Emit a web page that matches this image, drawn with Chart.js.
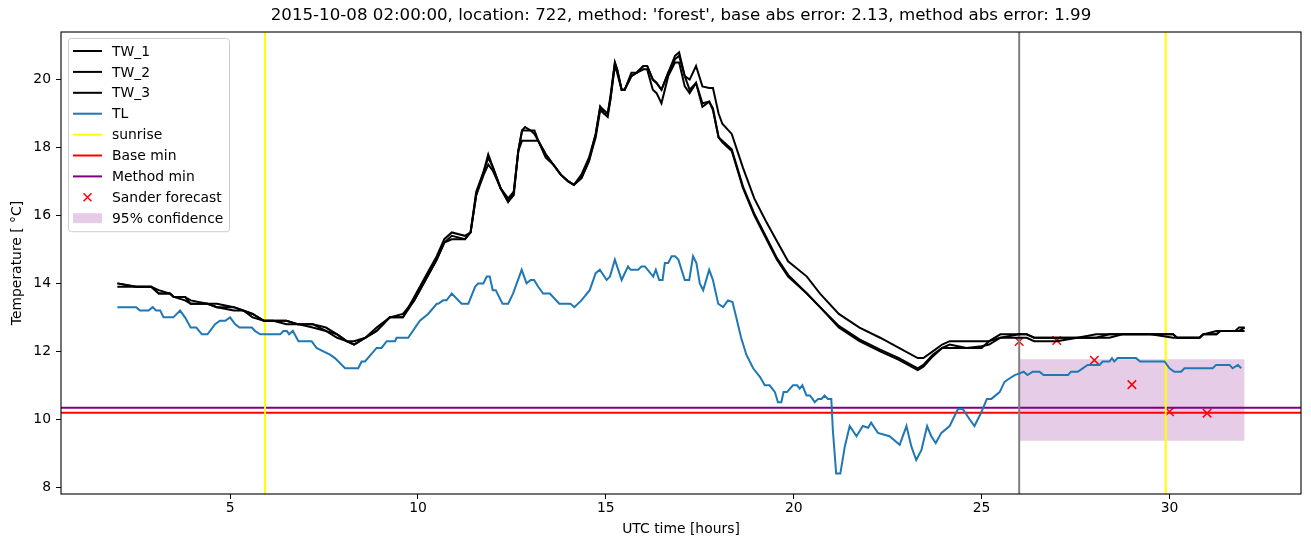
<!DOCTYPE html>
<html>
<head>
<meta charset="utf-8">
<script src="https://cdn.jsdelivr.net/npm/chart.js@4/dist/chart.umd.min.js"></script>
<style>
  html, body { margin: 0; padding: 0; background: #fff; }
  canvas { display: block; }
</style>
</head>
<body>
<canvas id="tempChart" width="1311" height="547"></canvas>
<script>
// water temperature sensors (hours UTC, deg C)
const twHours = [
  2.0, 2.5, 2.9, 3.1, 3.4, 3.5, 3.8, 3.95, 4.4, 4.65,
  5.1, 5.35, 5.6, 5.9, 6.15, 6.5, 6.8, 7.2, 7.55, 7.85,
  8.1, 8.3, 8.6, 8.9, 9.25, 9.6, 9.9, 10.2, 10.5, 10.7,
  10.9, 11.25, 11.4, 11.55, 11.75, 11.87, 12.0, 12.2, 12.4, 12.55,
  12.67, 12.77, 12.85, 13.0, 13.1, 13.2, 13.4, 13.6, 13.8, 14.0,
  14.15, 14.35, 14.55, 14.73, 14.85, 14.95, 15.05, 15.12, 15.24, 15.3,
  15.42, 15.5, 15.68, 15.82, 16.0, 16.1, 16.25, 16.35, 16.48, 16.66,
  16.84, 16.95, 17.1, 17.23, 17.4, 17.57, 17.75, 17.85, 18.0, 18.1,
  18.35, 18.65, 18.95, 19.25, 19.55, 19.85, 20.35, 20.7, 21.2, 21.75,
  22.3, 22.8, 23.3, 23.45, 23.7, 23.95, 24.15, 24.6, 25.0, 25.2,
  25.5, 26.0, 26.2, 26.4, 27.0, 27.55, 28.05, 28.4, 28.75, 29.5,
  30.1, 30.2, 30.8, 30.9, 31.25, 31.35, 31.75, 31.85, 32.0
];
const tw1 = [
  13.9, 13.9, 13.9, 13.7, 13.7, 13.6, 13.6, 13.4, 13.4, 13.3,
  13.3, 13.2, 13.1, 12.9, 12.9, 12.9, 12.8, 12.8, 12.7, 12.5,
  12.3, 12.2, 12.4, 12.6, 13.0, 13.0, 13.5, 14.1, 14.7, 15.2,
  15.3, 15.3, 15.5, 16.6, 17.2, 17.5, 17.3, 16.8, 16.4, 16.7,
  17.9, 18.2, 18.2, 18.2, 18.2, 18.2, 17.7, 17.5, 17.2, 17.0,
  16.9, 17.1, 17.6, 18.3, 19.1, 19.0, 18.9, 19.4, 20.4, 20.2,
  19.7, 19.7, 20.1, 20.2, 20.3, 20.3, 19.7, 19.6, 19.3, 20.1,
  20.5, 20.5, 19.8, 19.6, 19.9, 19.2, 19.35, 19.1, 18.3, 18.15,
  17.9, 16.8, 16.0, 15.35, 14.7, 14.2, 13.7, 13.3, 12.7, 12.3,
  12.0, 11.75, 11.45, 11.55, 11.85, 12.1, 12.1, 12.1, 12.1, 12.3,
  12.4, 12.5, 12.5, 12.4, 12.4, 12.4, 12.4, 12.5, 12.5, 12.5,
  12.5, 12.4, 12.4, 12.5, 12.5, 12.6, 12.6, 12.7, 12.7
];
const tw2 = [
  14.0, 13.9, 13.9, 13.8, 13.7, 13.6, 13.6, 13.5, 13.4, 13.4,
  13.3, 13.2, 13.0, 12.9, 12.9, 12.8, 12.8, 12.7, 12.6, 12.4,
  12.3, 12.2, 12.4, 12.7, 13.0, 13.1, 13.5, 14.1, 14.7, 15.2,
  15.4, 15.3, 15.5, 16.6, 17.3, 17.7, 17.4, 16.8, 16.5, 16.7,
  17.9, 18.5, 18.6, 18.5, 18.4, 18.2, 17.8, 17.5, 17.2, 17.0,
  16.9, 17.1, 17.6, 18.4, 19.2, 19.0, 19.0, 19.4, 20.5, 20.3,
  19.7, 19.7, 20.2, 20.2, 20.4, 20.4, 20.0, 19.9, 19.7, 20.2,
  20.6, 20.7, 20.1, 19.7, 19.9, 19.3, 19.35, 19.15, 18.3, 18.2,
  17.95, 16.85, 16.05, 15.4, 14.75, 14.25, 13.7, 13.3, 12.75, 12.35,
  12.05, 11.8, 11.5, 11.6, 11.9, 12.1, 12.2, 12.1, 12.15, 12.2,
  12.4, 12.4, 12.4, 12.3, 12.3, 12.4, 12.5, 12.5, 12.5, 12.5,
  12.4, 12.4, 12.4, 12.5, 12.5, 12.6, 12.6, 12.6, 12.6
];
const tw3 = [
  14.0, 13.9, 13.9, 13.7, 13.7, 13.6, 13.5, 13.4, 13.4, 13.3,
  13.2, 13.2, 13.1, 12.9, 12.9, 12.9, 12.8, 12.8, 12.6, 12.5,
  12.3, 12.3, 12.4, 12.6, 13.0, 13.0, 13.6, 14.2, 14.8, 15.3,
  15.5, 15.4, 15.5, 16.7, 17.3, 17.8, 17.4, 16.8, 16.4, 16.6,
  17.9, 18.5, 18.5, 18.5, 18.5, 18.2, 17.8, 17.5, 17.2, 17.0,
  16.9, 17.2, 17.7, 18.4, 19.2, 19.1, 19.0, 19.5, 20.5, 20.3,
  19.7, 19.7, 20.1, 20.2, 20.4, 20.4, 20.0, 19.9, 19.7, 20.2,
  20.7, 20.8, 20.1, 20.0, 20.4, 19.8, 19.75, 19.75, 19.0, 18.7,
  18.4, 17.4, 16.5, 15.85, 15.25, 14.65, 14.2, 13.7, 13.1, 12.7,
  12.4, 12.1, 11.8, 11.8, 12.0, 12.2, 12.3, 12.3, 12.3, 12.3,
  12.5, 12.5, 12.5, 12.4, 12.4, 12.4, 12.4, 12.4, 12.5, 12.5,
  12.5, 12.4, 12.4, 12.5, 12.6, 12.6, 12.6, 12.6, 12.7
];

// air temperature
const tlHours = [
  2.0, 2.5, 2.6, 2.83, 2.94, 3.03, 3.14, 3.23, 3.49, 3.67,
  3.8, 3.95, 4.1, 4.25, 4.4, 4.6, 4.73, 4.87, 5.0, 5.13,
  5.25, 5.58, 5.66, 5.8, 6.33, 6.42, 6.51, 6.57, 6.67, 6.82,
  7.17, 7.3, 7.48, 7.66, 7.79, 8.06, 8.41, 8.5, 8.59, 8.9,
  9.03, 9.17, 9.39, 9.43, 9.74, 10.05, 10.27, 10.5, 10.54, 10.67,
  10.76, 10.9, 11.16, 11.34, 11.52, 11.6, 11.74, 11.83, 11.91, 11.99,
  12.07, 12.25, 12.4, 12.53, 12.76, 12.89, 13.0, 13.09, 13.2, 13.33,
  13.51, 13.76, 14.06, 14.16, 14.35, 14.57, 14.73, 14.84, 15.02, 15.11,
  15.24, 15.42, 15.59, 15.66, 15.86, 15.95, 16.04, 16.26, 16.33, 16.42,
  16.51, 16.57, 16.66, 16.75, 16.84, 16.93, 17.1, 17.22, 17.32, 17.41,
  17.5, 17.59, 17.75, 17.85, 17.99, 18.12, 18.25, 18.37, 18.47, 18.6,
  18.74, 18.92, 19.1, 19.23, 19.36, 19.5, 19.58, 19.67, 19.73, 19.82,
  19.98, 20.09, 20.16, 20.23, 20.34, 20.43, 20.5, 20.56, 20.65, 20.74,
  20.82, 20.91, 21.0, 21.04, 21.13, 21.24, 21.36, 21.49, 21.67, 21.84,
  21.98, 22.06, 22.24, 22.55, 22.82, 23.0, 23.13, 23.26, 23.4, 23.55,
  23.66, 23.78, 23.93, 24.15, 24.37, 24.5, 24.68, 24.81, 24.99, 25.14,
  25.26, 25.48, 25.61, 25.74, 25.88, 26.01, 26.12, 26.22, 26.36, 26.54,
  26.65, 27.3, 27.38, 27.56, 27.69, 27.82, 28.14, 28.22, 28.4, 28.47,
  28.53, 28.62, 29.11, 29.22, 29.87, 30.0, 30.13, 30.31, 30.4, 31.15,
  31.24, 31.6, 31.68, 31.82, 31.91
];
const tl = [
  13.3, 13.3, 13.2, 13.2, 13.3, 13.2, 13.2, 13.0, 13.0, 13.2,
  13.0, 12.7, 12.7, 12.5, 12.5, 12.8, 12.9, 12.9, 13.0, 12.8,
  12.7, 12.7, 12.6, 12.5, 12.5, 12.6, 12.6, 12.5, 12.6, 12.3,
  12.3, 12.1, 12.0, 11.9, 11.8, 11.5, 11.5, 11.7, 11.7, 12.1,
  12.1, 12.3, 12.3, 12.4, 12.4, 12.9, 13.1, 13.4, 13.4, 13.5,
  13.5, 13.7, 13.4, 13.4, 13.9, 14.0, 14.0, 14.2, 14.2, 13.8,
  13.8, 13.4, 13.4, 13.7, 14.4, 14.0, 14.1, 14.1, 13.9, 13.7,
  13.7, 13.4, 13.4, 13.3, 13.5, 13.8, 14.3, 14.4, 14.1, 14.2,
  14.7, 14.1, 14.5, 14.4, 14.4, 14.5, 14.5, 14.2, 14.4, 14.1,
  14.1, 14.6, 14.6, 14.8, 14.8, 14.7, 14.1, 14.1, 14.8, 14.6,
  14.0, 13.8, 14.4, 14.1, 13.4, 13.3, 13.5, 13.45, 13.0, 12.4,
  11.9, 11.5, 11.25, 11.0, 11.0, 10.8, 10.5, 10.5, 10.8, 10.8,
  11.0, 11.0, 10.9, 11.0, 10.7, 10.7, 10.6, 10.5, 10.6, 10.6,
  10.7, 10.6, 10.6, 9.7, 8.4, 8.4, 9.2, 9.8, 9.5, 9.8,
  9.75, 9.9, 9.6, 9.5, 9.25, 9.8, 9.2, 8.8, 9.1, 9.8,
  9.5, 9.3, 9.6, 9.8, 10.3, 10.3, 10.0, 9.8, 10.2, 10.6,
  10.6, 10.8, 11.1, 11.2, 11.3, 11.35, 11.4, 11.3, 11.4, 11.4,
  11.3, 11.3, 11.4, 11.4, 11.5, 11.6, 11.6, 11.7, 11.7, 11.8,
  11.7, 11.8, 11.8, 11.7, 11.7, 11.5, 11.4, 11.4, 11.5, 11.5,
  11.6, 11.6, 11.5, 11.6, 11.5
];

const sunriseHours = [5.93, 29.9];
const forecastStart = 26.0;
const baseMin = 10.19;
const methodMin = 10.34;

const forecastHours = [26, 27, 28, 29, 30, 31];
const forecastValues = [12.29, 12.32, 11.74, 11.02, 10.22, 10.18];

const confHours = [26.0, 32.0];
const confUpper = 11.77;
const confLower = 9.37;

const xRange = [0.5, 33.5];
const yRange = [7.8, 21.4];
const xTicks = [5, 10, 15, 20, 25, 30];
const yTicks = [8, 10, 12, 14, 16, 18, 20];

const titleText = "2015-10-08 02:00:00, location: 722, method: 'forest', base abs error: 2.13, method abs error: 1.99";

const pts = (xs, ys) => xs.map((x, i) => ({ x, y: ys[i] }));

Chart.defaults.font.family = "'DejaVu Sans', sans-serif";
Chart.defaults.color = '#000';

const lineDs = (label, data, color, extra) => Object.assign({
  label, data, borderColor: color, backgroundColor: color,
  borderWidth: 2, pointRadius: 0, tension: 0, fill: false,
  legendKind: 'line',
}, extra || {});

const datasets = [
  lineDs('TW_1', pts(twHours, tw1), '#000000'),
  lineDs('TW_2', pts(twHours, tw2), '#000000'),
  lineDs('TW_3', pts(twHours, tw3), '#000000'),
  lineDs('TL', pts(tlHours, tl), '#1f77b4'),
  lineDs('sunrise', [{ x: sunriseHours[0], y: yRange[0] }, { x: sunriseHours[0], y: yRange[1] }], '#ffff00'),
  lineDs('sunrise_2', [{ x: sunriseHours[1], y: yRange[0] }, { x: sunriseHours[1], y: yRange[1] }], '#ffff00', { legendKind: null }),
  lineDs('now', [{ x: forecastStart, y: yRange[0] }, { x: forecastStart, y: yRange[1] }], '#808080', { legendKind: null }),
  lineDs('Base min', [{ x: xRange[0], y: baseMin }, { x: xRange[1], y: baseMin }], '#ff0000'),
  lineDs('Method min', [{ x: xRange[0], y: methodMin }, { x: xRange[1], y: methodMin }], '#800080'),
  {
    label: 'Sander forecast', data: pts(forecastHours, forecastValues),
    showLine: false, pointStyle: 'crossRot', pointRadius: 6, pointBorderWidth: 1.5,
    borderColor: '#ff0000', backgroundColor: '#ff0000', legendKind: 'cross',
  },
  {
    label: '95% confidence',
    data: confHours.map(x => ({ x, y: confUpper })),
    borderWidth: 0, pointRadius: 0, borderColor: 'rgba(0,0,0,0)',
    backgroundColor: 'rgba(128,0,128,0.2)', fill: { value: confLower },
    order: 10, legendKind: 'rect',
  },
];

// matplotlib-style boxed legend in the upper left of the axes
const boxLegend = {
  id: 'boxLegend',
  afterDatasetsDraw(chart) {
    const { ctx, chartArea } = chart;
    const items = chart.data.datasets.filter(d => d.legendKind);
    const x0 = chartArea.left + 7, y0 = chartArea.top + 6;
    const w = 161, rowH = 20.9, h = 13 + rowH * (items.length - 1) + 13;
    ctx.save();
    ctx.beginPath();
    ctx.roundRect(x0 + 0.5, y0 + 0.5, w, h, 3);
    ctx.fillStyle = 'rgba(255,255,255,0.8)';
    ctx.fill();
    ctx.strokeStyle = '#cccccc';
    ctx.lineWidth = 1;
    ctx.stroke();
    ctx.font = "13.9px 'DejaVu Sans'";
    ctx.textBaseline = 'middle';
    items.forEach((d, i) => {
      const cy = y0 + 13 + i * rowH;
      const hx0 = x0 + 5, hx1 = x0 + 34;
      if (d.legendKind === 'line') {
        ctx.strokeStyle = d.borderColor;
        ctx.lineWidth = 2;
        ctx.beginPath();
        ctx.moveTo(hx0, cy);
        ctx.lineTo(hx1, cy);
        ctx.stroke();
      } else if (d.legendKind === 'cross') {
        const cx = (hx0 + hx1) / 2, r = 4;
        ctx.strokeStyle = d.borderColor;
        ctx.lineWidth = 1.5;
        ctx.beginPath();
        ctx.moveTo(cx - r, cy - r); ctx.lineTo(cx + r, cy + r);
        ctx.moveTo(cx - r, cy + r); ctx.lineTo(cx + r, cy - r);
        ctx.stroke();
      } else if (d.legendKind === 'rect') {
        ctx.fillStyle = d.backgroundColor;
        ctx.fillRect(hx0, cy - 5, hx1 - hx0, 10);
      }
      ctx.fillStyle = '#000';
      ctx.fillText(d.label, x0 + 44, cy + 1);
    });
    ctx.restore();
  },
  afterDraw(chart) {
    const { ctx, chartArea: a } = chart;
    ctx.save();
    ctx.strokeStyle = '#000';
    ctx.lineWidth = 1.1;
    ctx.strokeRect(a.left, a.top, a.right - a.left, a.bottom - a.top);
    ctx.restore();
  },
};

const axisCommon = {
  grid: { display: true, drawOnChartArea: false, drawTicks: true, tickLength: 5, tickColor: '#000', tickWidth: 1 },
  border: { display: false },
};

new Chart(document.getElementById('tempChart').getContext('2d'), {
  type: 'line',
  data: { datasets },
  options: {
    responsive: false,
    animation: false,
    layout: { padding: { left: 0, right: 10, top: 0, bottom: 0 } },
    scales: {
      x: Object.assign({}, axisCommon, {
        type: 'linear', min: xRange[0], max: xRange[1],
        afterBuildTicks: s => { s.ticks = xTicks.map(v => ({ value: v })); },
        afterFit: s => { s.height = 53; },
        ticks: { font: { size: 13.9 }, padding: 1, maxRotation: 0 },
        title: { display: true, text: 'UTC time [hours]', font: { size: 13.9 }, padding: { top: 2, bottom: 9 } },
      }),
      y: Object.assign({}, axisCommon, {
        type: 'linear', min: yRange[0], max: yRange[1],
        afterBuildTicks: s => { s.ticks = yTicks.map(v => ({ value: v })); },
        afterFit: s => { s.width = 61; },
        ticks: { font: { size: 13.9 }, padding: 5 },
        title: { display: true, text: 'Temperature [ °C]', font: { size: 13.9 }, padding: { top: 9, bottom: 2 } },
      }),
    },
    plugins: {
      legend: { display: false },
      tooltip: { enabled: false },
      title: {
        display: true, fullSize: false, text: titleText, color: '#000',
        font: { size: 16.67, weight: 'normal' }, padding: { top: 6, bottom: 6 },
      },
    },
  },
  plugins: [boxLegend],
});
</script>
</body>
</html>
